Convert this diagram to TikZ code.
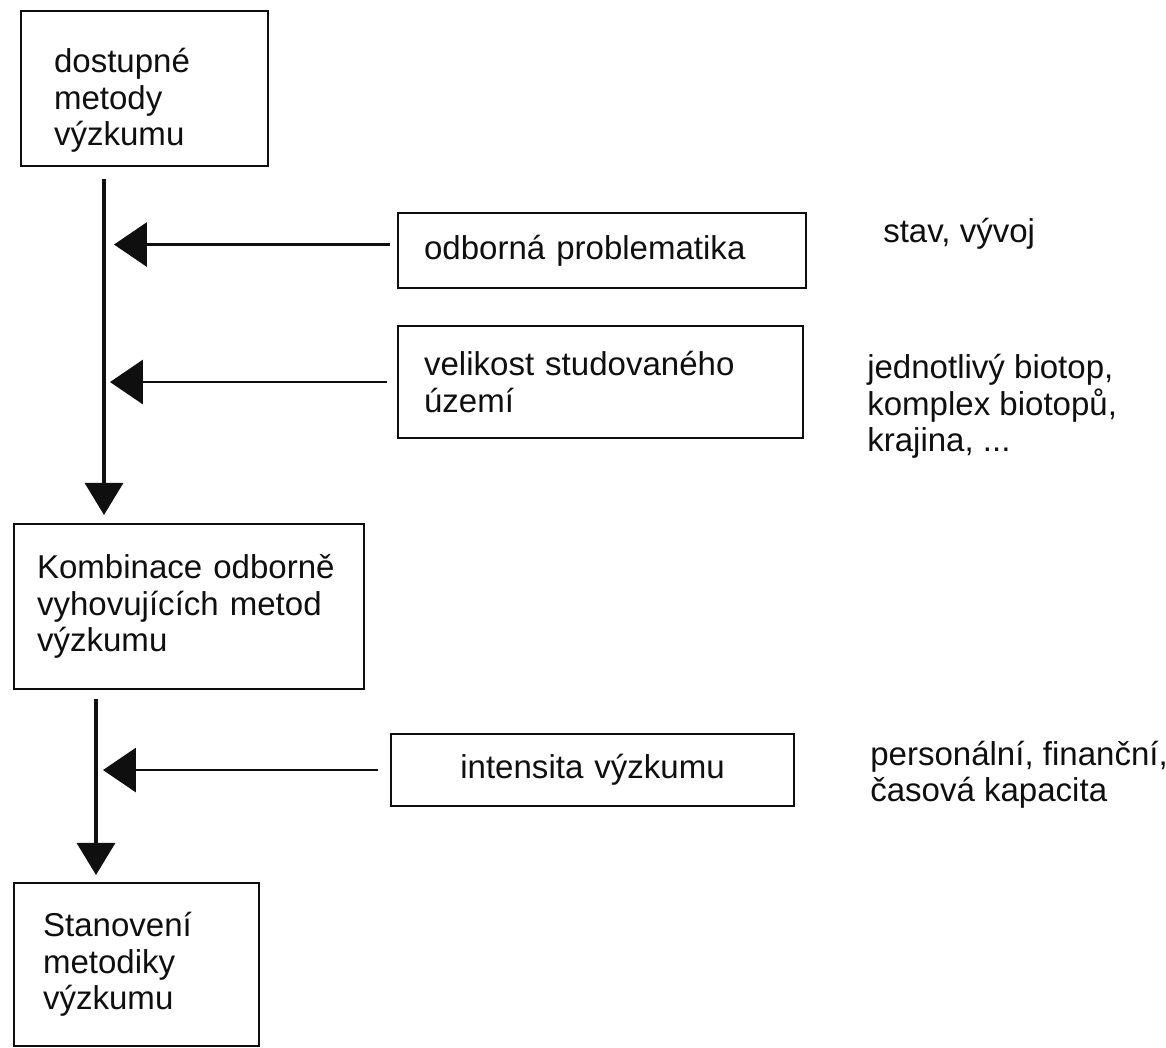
\documentclass[tikz,border=0pt]{standalone}
\usepackage{fontspec}
\setmainfont{Liberation Sans}
\usepackage{tikz}
\usepackage{xcolor}
\usetikzlibrary{positioning, calc, arrows.meta}
\definecolor{ink}{RGB}{15,15,15}

\begin{document}
\begin{tikzpicture}[
    font=\fontsize{23.5}{26}\selectfont,
    box/.style={draw=ink, line width=1.5pt, anchor=north west, inner ysep=0pt, align=left, text=ink},
    flow/.style={ink, line width=2.2pt, -{Triangle[length=8mm, width=9.5mm]}},
    feed/.style={ink, line width=1.8pt, -{Triangle[length=8.2mm, width=11mm]}},
    note/.style={anchor=base west, inner sep=0pt, align=left, text=ink}
]
    \useasboundingbox (0,0) rectangle (29.15,26.175);
    % left column
    \node[box, minimum height=3.875cm, inner xsep=0.825cm, text width=4.525cm, text height=1.2cm] (methods) at (0.5,25.925) {dostupné\\metody\\výzkumu};
    \node[box, minimum height=4.125cm, inner xsep=0.575cm, text width=7.6cm] (combo) at (0.325,13.1) {Kombinace odborně\\vyhovujících metod\\výzkumu};
    \node[box, minimum height=4.075cm, inner xsep=0.725cm, text width=4.675cm] (design) at (0.325,4.125) {Stanovení\\metodiky\\výzkumu};
    % factors
    \node[box, minimum height=1.875cm, inner xsep=0.65cm, text width=8.9cm] (topic) at (9.925,20.875) {odborná problematika};
    \node[box, minimum height=2.8cm, inner xsep=0.65cm, text width=8.825cm] (area) at (9.925,18.05) {velikost studovaného\\území};
    \node[box, minimum height=1.8cm, inner xsep=0.3cm, text width=9.475cm, align=center] (effort) at (9.75,7.85) {intensita výzkumu};
    % remarks (base = last line)
    \node[note] (topicnote) at (22.075,20.1) {stav, vývoj};
    \node[note] (areanote) at (21.675,14.875) {jednotlivý biotop,\\komplex biotopů,\\krajina, ...};
    \node[note] (effortnote) at (21.75,6.125) {personální, finanční,\\časová kapacita};
    % spines
    \coordinate (spine1) at (2.6,0);
    \coordinate (spine2) at (2.4,0);
    \draw[flow, shorten <=0.3cm, shorten >=0.2cm] (methods.south -| spine1) -- (combo.north -| spine1);
    \draw[flow, shorten <=0.225cm, shorten >=0.175cm] (combo.south -| spine2) -- (design.north -| spine2);
    \draw[feed, shorten <=0.175cm, shorten >=0.25cm] ([yshift=0.15cm]topic.west) -- ([yshift=0.15cm]topic.west -| spine1);
    \draw[feed, shorten <=0.25cm, shorten >=0.15cm] (area.west) -- (area.west -| spine1);
    \draw[feed, shorten <=0.3cm, shorten >=0.175cm] (effort.west) -- (effort.west -| spine2);
\end{tikzpicture}
\end{document}
